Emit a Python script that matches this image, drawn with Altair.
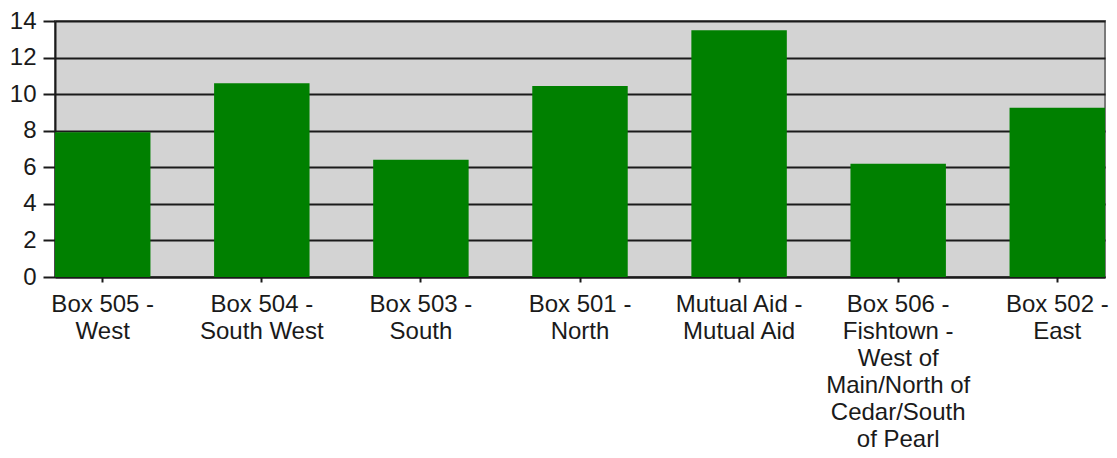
import altair as alt
import pandas as pd

categories = [
    "Box 505 -\nWest",
    "Box 504 -\nSouth West",
    "Box 503 -\nSouth",
    "Box 501 -\nNorth",
    "Mutual Aid -\nMutual Aid",
    "Box 506 -\nFishtown -\nWest of\nMain/North of\nCedar/South\nof Pearl",
    "Box 502 -\nEast",
]
values = [7.92, 10.6, 6.41, 10.45, 13.5, 6.2, 9.25]

df = pd.DataFrame({"category": categories, "value": values})

FONT = "Liberation Sans"

chart = alt.Chart(df).mark_bar(color="#008000").encode(
    x=alt.X(
        "category:N",
        sort=categories,
        title=None,
        scale=alt.Scale(paddingInner=0.4, paddingOuter=0),
        axis=alt.Axis(
            labelAngle=0,
            labelExpr="split(datum.value, '\\n')",
            labelFont=FONT,
            labelFontSize=24,
            labelLineHeight=27,
            labelColor="#1a1a1a",
            labelPadding=10,
            labelBaseline="top",
            tickSize=5,
            tickColor="#1a1a1a",
            tickWidth=2,
            domainColor="#1a1a1a",
            domainWidth=2,
            grid=False,
            labelLimit=300,
        ),
    ),
    y=alt.Y(
        "value:Q",
        title=None,
        scale=alt.Scale(domain=[0, 14], nice=False),
        axis=alt.Axis(
            values=[0, 2, 4, 6, 8, 10, 12, 14],
            labelFont=FONT,
            labelFontSize=24,
            labelColor="#1a1a1a",
            labelPadding=7,
            tickSize=12,
            tickColor="#1a1a1a",
            tickWidth=2,
            domainColor="#1a1a1a",
            domainWidth=2,
            grid=True,
            gridColor="#1a1a1a",
            gridWidth=2,
        ),
    ),
).properties(
    width=1050,
    height=256,
    autosize=alt.AutoSizeParams(type="none"),
    padding={"left": 47, "top": 13, "right": 4, "bottom": 175},
).configure_view(
    fill="#d3d3d3",
    stroke="#7a7a7a",
    strokeWidth=2,
)

chart.save("out.html", embed_options={"renderer": "svg", "actions": False})
